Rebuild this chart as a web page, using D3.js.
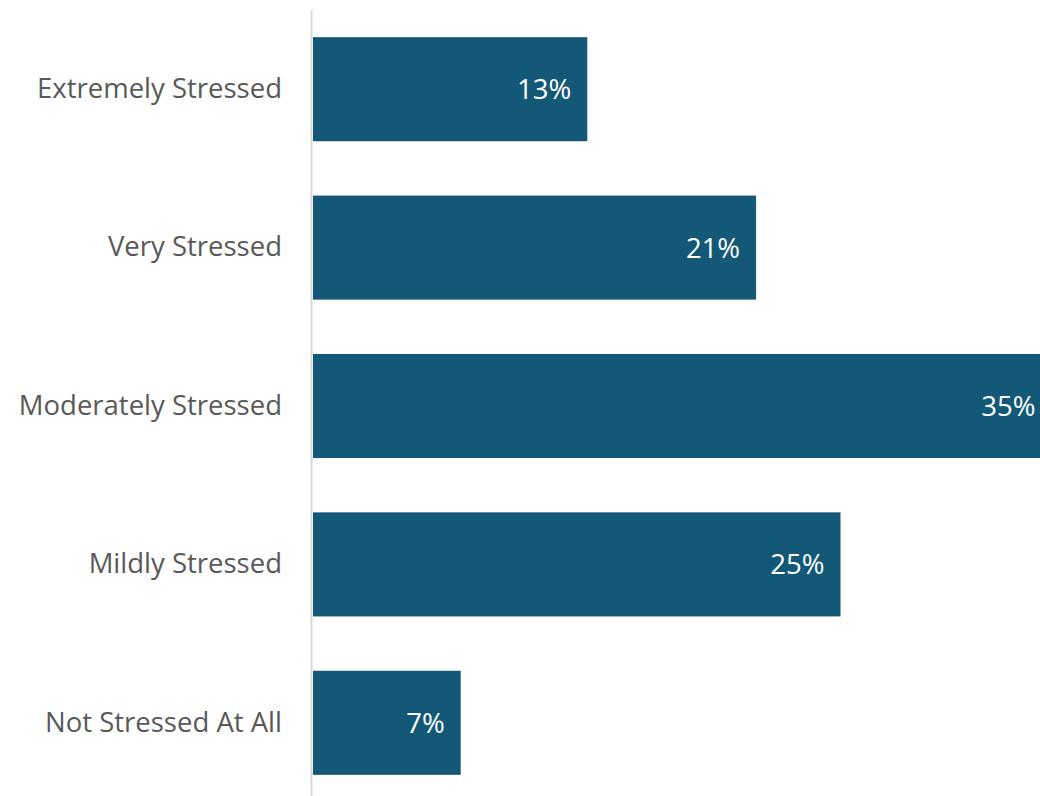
<!DOCTYPE html>
<html>
<head>
<meta charset="utf-8">
<script src="https://cdn.jsdelivr.net/npm/d3@7"></script>
<style>
  html, body { margin: 0; padding: 0; background: #ffffff; }
  svg { display: block; }
</style>
</head>
<body>
<svg id="chart" width="1040" height="796"></svg>
<script>
// Stress levels and share of respondents (%)
const categories = ["Extremely Stressed", "Very Stressed", "Moderately Stressed", "Mildly Stressed", "Not Stressed At All"];
const values = [13, 21, 35, 25, 7];
const valueLabels = ["13%", "21%", "35%", "25%", "7%"];

const width = 1040, height = 796;
const plotLeft = 313, plotRight = 1040;
const barColor = "#135876";
const font = "'Open Sans', Lato, sans-serif";

const svg = d3.select("#chart");

// pixels per percentage point; bars running past the plot edge are clipped
const x = d3.scaleLinear().domain([0, 1]).range([0, 21.1]);

const y = d3.scaleBand()
  .domain(categories)
  .range([10, 802])
  .paddingInner(0.343)
  .paddingOuter(0.1715);

svg.append("defs").append("clipPath").attr("id", "plot-clip")
  .append("rect").attr("x", plotLeft).attr("y", 0)
  .attr("width", plotRight - plotLeft).attr("height", height);

const rows = categories.map((c, i) => ({ cat: c, v: values[i], label: valueLabels[i] }));

svg.append("g").attr("clip-path", "url(#plot-clip)")
  .selectAll("rect").data(rows).join("rect")
  .attr("x", plotLeft)
  .attr("y", d => y(d.cat))
  .attr("width", d => x(d.v))
  .attr("height", y.bandwidth())
  .attr("fill", barColor);

// value labels, kept inside the plot area
svg.append("g").selectAll("text").data(rows).join("text")
  .attr("x", d => Math.min(plotLeft + x(d.v) - 16, plotRight - 4))
  .attr("y", d => y(d.cat) + y.bandwidth() / 2)
  .attr("dy", "0.36em")
  .attr("text-anchor", "end")
  .attr("fill", "#ffffff")
  .style("font-family", font)
  .style("font-size", "27.5px")
  .text(d => d.label);

// category axis
const yAxis = d3.axisLeft(y).tickSize(0).tickPadding(30);
const ag = svg.append("g").attr("transform", `translate(${plotLeft - 1},0)`).call(yAxis);
ag.select(".domain").remove();
ag.selectAll("text")
  .attr("fill", "#595959")
  .style("font-family", font)
  .style("font-size", "27.5px");

svg.append("line")
  .attr("x1", plotLeft - 1.5).attr("x2", plotLeft - 1.5)
  .attr("y1", 10).attr("y2", height)
  .attr("stroke", "#d9d9d9").attr("stroke-width", 2);
</script>
</body>
</html>
